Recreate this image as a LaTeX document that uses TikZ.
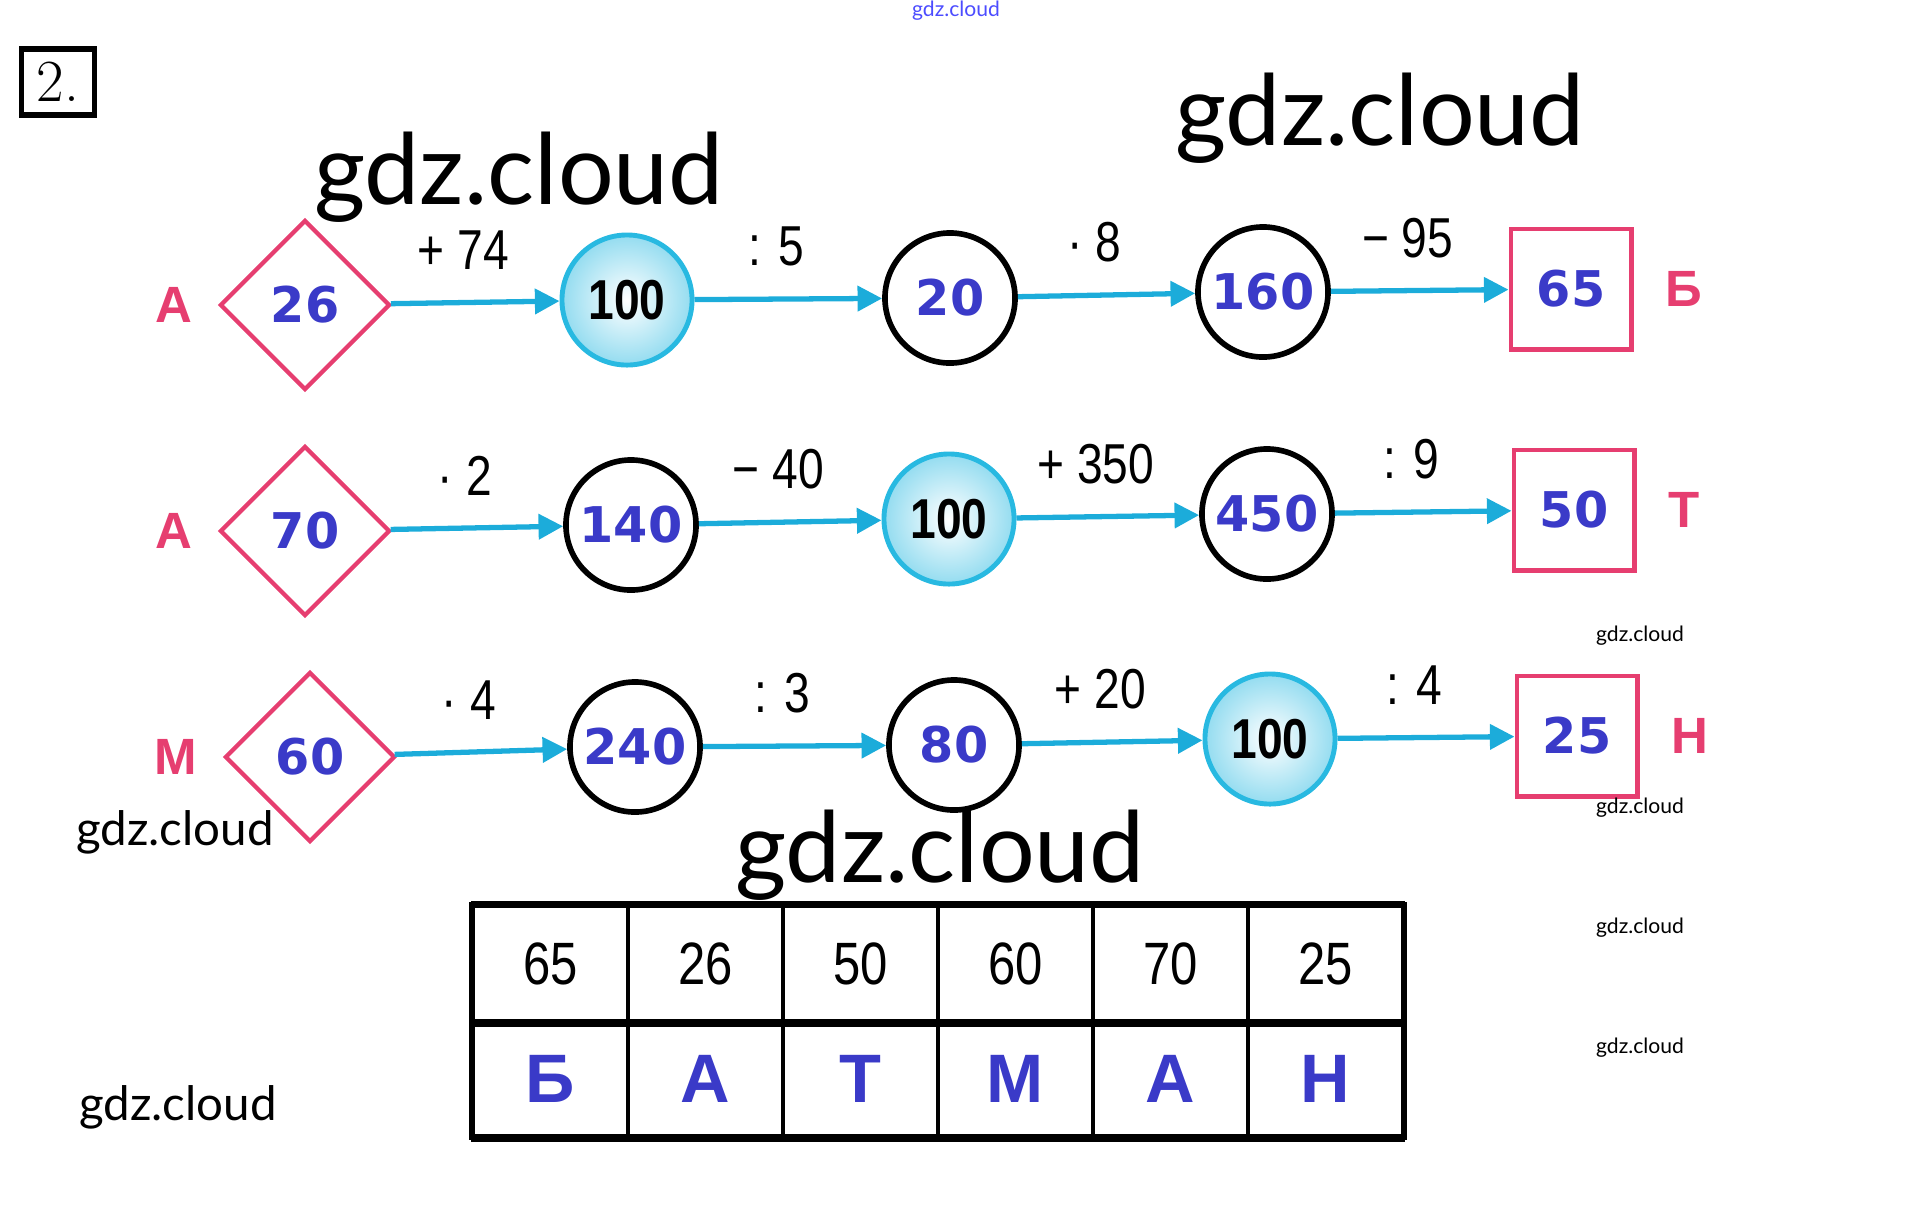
\documentclass[tikz,border=0pt]{standalone}
\usepackage{fontspec}
\usetikzlibrary{shapes.geometric,arrows.meta,positioning}
\newfontfamily\numfont{DejaVu Sans}
\newfontfamily\labfont{Liberation Sans}
\newfontfamily\narrowfont[FakeStretch=0.82]{Liberation Sans}
\newfontfamily\markfont{Lato}
\definecolor{numblue}{RGB}{58,58,200}
\definecolor{pinkred}{RGB}{230,62,112}
\definecolor{arrowcyan}{RGB}{28,172,218}
\definecolor{ballcyan}{RGB}{40,185,225}
\tikzset{
  num/.style={text=numblue, font=\numfont\bfseries\fontsize{14}{16}\selectfont, inner sep=0pt},
  plain/.style={circle, draw=black, line width=1.6pt, minimum size=1.3cm, num},
  ball/.style={circle, draw=ballcyan, line width=1.4pt, minimum size=1.3cm, inner sep=0pt,
    inner color=white, outer color=ballcyan!50, text=black, font=\narrowfont\bfseries\fontsize{16}{18}\selectfont},
  start/.style={diamond, draw=pinkred, line width=1.2pt, minimum size=1.7cm, num},
  finish/.style={rectangle, draw=pinkred, line width=1.4pt, minimum size=1.2cm, num},
  tag/.style={text=pinkred, font=\labfont\bfseries\fontsize{14.5}{16}\selectfont, inner sep=0pt},
  go/.style={draw=arrowcyan, line width=1.5pt, -{Triangle[length=7pt,width=7pt]}},
  op/.style={font=\narrowfont\fontsize{16}{18}\selectfont, above=0.3cm, xshift=-0.12cm, inner sep=0pt},
  wm/.style={font=\markfont\fontsize{28}{31}\selectfont, inner sep=0pt},
  wmsmall/.style={font=\markfont\fontsize{13.5}{15}\selectfont, inner sep=0pt},
  wmtiny/.style={font=\markfont\fontsize{6}{7}\selectfont, inner sep=0pt},
  cell/.style={draw, line width=0.9pt, minimum width=1.55cm, minimum height=1.15cm, inner sep=0pt,
    font=\narrowfont\fontsize{17}{19}\selectfont},
  letter/.style={text=numblue, font=\labfont\bfseries\fontsize{19.5}{22}\selectfont}
}
\begin{document}
\begin{tikzpicture}[x=0.01cm,y=-0.01cm]
  \useasboundingbox (0,0) rectangle (1915,1217);
  \node[draw, line width=1.5pt, minimum width=0.73cm, minimum height=0.66cm, font=\fontsize{17}{19}\selectfont] (task) at (58,82) {2.};

  % first chain
  \node[start] (a0) at (305,305) {26};
  \node[ball] (a1) at (627,300) {100};
  \node[plain] (a2) at (950,298) {20};
  \node[plain] (a3) at (1263,292) {160};
  \node[finish] (a4) at (1571,289) {65};
  \node[tag, left=0.25cm of a0] (ta0) {А};
  \node[tag, right=0.31cm of a4] (ta4) {Б};
  \draw[go] (a0) -- node[op] (pa1) {+ 74} (a1);
  \draw[go] (a1) -- node[op] (pa2) {: 5} (a2);
  \draw[go] (a2) -- node[op] (pa3) {· 8} (a3);
  \draw[go] (a3) -- node[op] (pa4) {− 95} (a4);

  % second chain
  \node[start] (b0) at (305,531) {70};
  \node[plain] (b1) at (631,525) {140};
  \node[ball] (b2) at (949,519) {100};
  \node[plain] (b3) at (1267,514) {450};
  \node[finish] (b4) at (1574,510) {50};
  \node[tag, left=0.25cm of b0] (tb0) {А};
  \node[tag, right=0.31cm of b4] (tb4) {Т};
  \draw[go] (b0) -- node[op] (pb1) {· 2} (b1);
  \draw[go] (b1) -- node[op] (pb2) {− 40} (b2);
  \draw[go] (b2) -- node[op] (pb3) {+ 350} (b3);
  \draw[go] (b3) -- node[op] (pb4) {: 9} (b4);

  % third chain
  \node[start] (c0) at (310,757) {60};
  \node[plain] (c1) at (635,747) {240};
  \node[plain] (c2) at (954,745) {80};
  \node[ball] (c3) at (1270,739) {100};
  \node[finish] (c4) at (1577,736) {25};
  \node[tag, left=0.25cm of c0] (tc0) {М};
  \node[tag, right=0.31cm of c4] (tc4) {Н};
  \draw[go] (c0) -- node[op] (pc1) {· 4} (c1);
  \draw[go] (c1) -- node[op] (pc2) {: 3} (c2);
  \draw[go] (c2) -- node[op] (pc3) {+ 20} (c3);
  \draw[go] (c3) -- node[op] (pc4) {: 4} (c4);

  % answer table
  \foreach \v/\l [count=\i] in {65/Б,26/А,50/Т,60/М,70/А,25/Н} {
    \node[cell] (v\i) at (395.5+155*\i,963.5) {\v};
    \node[cell, letter] (l\i) at (395.5+155*\i,1078.5) {\l};
  }
  \draw[line width=1.3pt] (v1.north west) rectangle (l6.south east);
  \draw[line width=2.2pt] (v1.north west) -- (v6.north east)
    (v1.south west) -- (v6.south east) (l1.south west) -- (l6.south east);

  % watermarks
  \node[wm] (w1) at (519,177) {gdz.cloud};
  \node[wm] (w2) at (1380,118) {gdz.cloud};
  \node[wm] (w3) at (940,855) {gdz.cloud};
  \node[wmsmall] (w4) at (175,832) {gdz.cloud};
  \node[wmsmall] (w5) at (178,1107) {gdz.cloud};
  \foreach \y [count=\j] in {636,808,928,1048}
    \node[wmtiny] (s\j) at (1640,\y) {gdz.cloud};
  \node[wmtiny, text=blue!70] (s0) at (956,11) {gdz.cloud};
\end{tikzpicture}
\end{document}
